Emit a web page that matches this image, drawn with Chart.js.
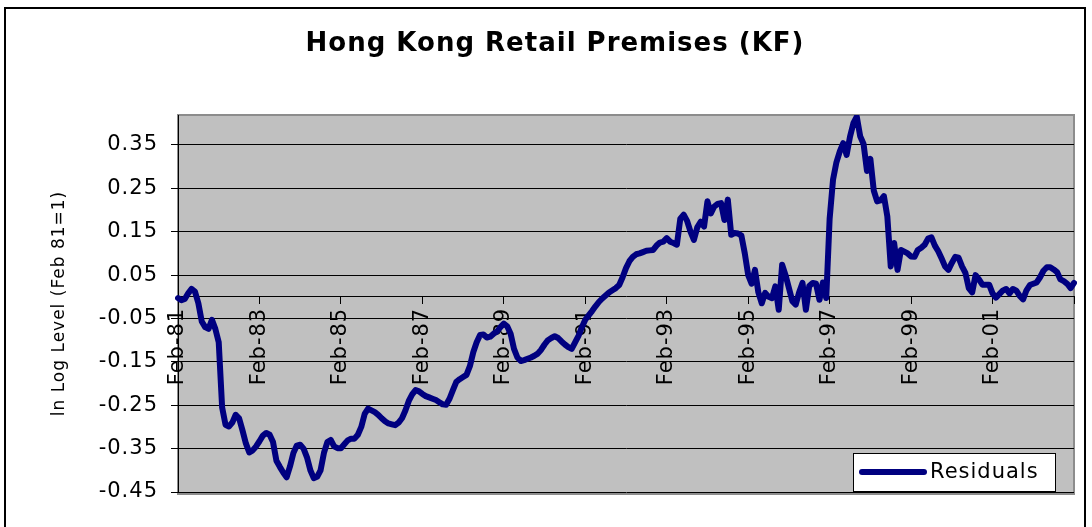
<!DOCTYPE html>
<html>
<head>
<meta charset="utf-8">
<title>Hong Kong Retail Premises (KF)</title>
<script src="https://cdn.jsdelivr.net/npm/chart.js@4/dist/chart.umd.min.js"></script>
<style>
  html, body { margin: 0; padding: 0; background: #fff; overflow: hidden; }
  #wrap { position: relative; width: 1092px; height: 527px; }
  #frame { position: absolute; left: 4px; top: 7px; width: 1082px; height: 560px;
           border: 2px solid #000; border-bottom: none; box-sizing: border-box; }
  canvas { position: absolute; left: 0; top: 0; }
</style>
</head>
<body>
<div id="wrap">
  <div id="frame"></div>
  <canvas id="chart" width="1092" height="527"></canvas>
</div>
<script>
// Monthly residuals, Feb-81 through Feb-03 (one row per year, Feb..Jan)
const residuals = [
  -0.003, -0.008, -0.005,  0.008,  0.018,  0.012, -0.015, -0.057, -0.070, -0.074, -0.053, -0.074,
  -0.105, -0.255, -0.295, -0.299, -0.290, -0.272, -0.280, -0.308, -0.338, -0.359, -0.354, -0.345,
  -0.333, -0.320, -0.314, -0.318, -0.335, -0.378, -0.392, -0.405, -0.416, -0.391, -0.360, -0.343,
  -0.341, -0.350, -0.370, -0.400, -0.418, -0.415, -0.400, -0.360, -0.335, -0.330, -0.345, -0.349,
  -0.349, -0.340, -0.331, -0.327, -0.327, -0.318, -0.300, -0.270, -0.258, -0.262, -0.266, -0.272,
  -0.280, -0.287, -0.292, -0.294, -0.296, -0.290, -0.280, -0.262, -0.240, -0.225, -0.215, -0.218,
  -0.224, -0.229, -0.232, -0.235, -0.238, -0.243, -0.248, -0.249, -0.235, -0.215, -0.196, -0.190,
  -0.185, -0.180, -0.160, -0.128, -0.105, -0.088, -0.087, -0.094, -0.092, -0.085, -0.080, -0.070,
  -0.062, -0.068, -0.085, -0.120, -0.140, -0.148, -0.146, -0.143, -0.140, -0.136, -0.131, -0.122,
  -0.110, -0.100, -0.095, -0.091, -0.095, -0.103, -0.110, -0.116, -0.120, -0.105, -0.090, -0.070,
  -0.053, -0.043, -0.033, -0.022, -0.012, -0.004,  0.003,  0.010,  0.015,  0.020,  0.027,  0.045,
   0.066,  0.082,  0.092,  0.098,  0.100,  0.103,  0.106,  0.107,  0.108,  0.118,  0.125,  0.127,
   0.135,  0.127,  0.124,  0.120,  0.180,  0.189,  0.175,  0.150,  0.131,  0.160,  0.173,  0.162,
   0.220,  0.192,  0.208,  0.214,  0.216,  0.177,  0.224,  0.143,  0.147,  0.146,  0.141,  0.100,
   0.050,  0.030,  0.062,  0.010, -0.015,  0.009,  0.000, -0.003,  0.024, -0.030,  0.074,  0.050,
   0.020, -0.010, -0.018,  0.010,  0.032, -0.030,  0.025,  0.032,  0.030, -0.007,  0.033, -0.003,
   0.180,  0.270,  0.310,  0.335,  0.354,  0.327,  0.369,  0.400,  0.415,  0.370,  0.352,  0.290,
   0.318,  0.245,  0.220,  0.222,  0.232,  0.185,  0.070,  0.124,  0.062,  0.108,  0.104,  0.100,
   0.093,  0.092,  0.108,  0.113,  0.120,  0.134,  0.137,  0.118,  0.105,  0.088,  0.070,  0.062,
   0.078,  0.092,  0.090,  0.070,  0.055,  0.020,  0.010,  0.050,  0.040,  0.028,  0.028,  0.028,
   0.008, -0.002,  0.006,  0.014,  0.018,  0.008,  0.018,  0.014,  0.002, -0.006,  0.015,  0.027,
   0.030,  0.033,  0.045,  0.060,  0.068,  0.068,  0.063,  0.057,  0.040,  0.036,  0.030,  0.020,
   0.032
];

// Category labels: one per month starting Feb-81
const monthNames = ['Jan','Feb','Mar','Apr','May','Jun','Jul','Aug','Sep','Oct','Nov','Dec'];
const months = residuals.map((_, i) => {
  const k = i + 1;
  const yy = (81 + Math.floor(k / 12)) % 100;
  return monthNames[k % 12] + '-' + String(yy).padStart(2, '0');
});

// Axis labels
const tickLabels = ['Feb-81','Feb-83','Feb-85','Feb-87','Feb-89','Feb-91','Feb-93','Feb-95','Feb-97','Feb-99','Feb-01'];
const tickEvery = 24;
const yTicks = [-0.45, -0.35, -0.25, -0.15, -0.05, 0.05, 0.15, 0.25, 0.35];

const FONT = "'DejaVu Sans', 'Liberation Sans', sans-serif";
const SPACING = '1px';

// Slightly spaced-out lettering for all canvas text
const textSpacing = {
  id: 'textSpacing',
  beforeUpdate(chart) { chart.ctx.letterSpacing = SPACING; },
  beforeDraw(chart) { chart.ctx.letterSpacing = SPACING; }
};

// Grey plot area with a soft frame
const plotBackground = {
  id: 'plotBackground',
  beforeDraw(chart) {
    const { ctx, chartArea: a } = chart;
    ctx.save();
    ctx.fillStyle = '#c0c0c0';
    ctx.fillRect(a.left, a.top, a.right - a.left, a.bottom - a.top);
    ctx.strokeStyle = '#8c8c8c';
    ctx.lineWidth = 2;
    ctx.strokeRect(a.left, a.top, a.right - a.left, a.bottom - a.top + 2);
    ctx.restore();
  }
};

// Boxed legend sitting in the lower right corner of the plot
const cornerLegend = {
  id: 'cornerLegend',
  afterDraw(chart) {
    const { ctx, chartArea: a } = chart;
    const ds = chart.data.datasets[0];
    const w = 202, h = 38;
    const x = a.right - 19 - w;
    const y = a.bottom - 1 - h;
    ctx.save();
    ctx.fillStyle = '#fff';
    ctx.fillRect(x, y, w, h);
    ctx.strokeStyle = '#000';
    ctx.lineWidth = 1;
    ctx.strokeRect(x + 0.5, y + 0.5, w, h);
    ctx.strokeStyle = ds.borderColor;
    ctx.lineWidth = 6;
    ctx.lineCap = 'round';
    ctx.beginPath();
    ctx.moveTo(x + 9, y + h / 2);
    ctx.lineTo(x + 71, y + h / 2);
    ctx.stroke();
    ctx.fillStyle = '#000';
    ctx.font = '21px ' + FONT;
    ctx.textAlign = 'left';
    ctx.textBaseline = 'middle';
    ctx.fillText(ds.label, x + 77, y + h / 2 + 1);
    ctx.restore();
  }
};

new Chart(document.getElementById('chart'), {
  type: 'line',
  data: {
    labels: months,
    datasets: [{
      label: 'Residuals',
      data: residuals,
      borderColor: '#000080',
      borderWidth: 6,
      pointRadius: 0,
      tension: 0,
      fill: false,
      borderJoinStyle: 'round',
      borderCapStyle: 'round'
    }]
  },
  options: {
    responsive: false,
    animation: false,
    events: [],
    layout: { padding: { left: 36, right: 18, top: 0, bottom: 35 } },
    plugins: {
      legend: { display: false },
      tooltip: { enabled: false },
      title: {
        display: true,
        text: 'Hong Kong Retail Premises (KF)',
        color: '#000',
        font: { family: FONT, size: 26, weight: 'bold' },
        padding: { top: 29, bottom: 54.8 }
      }
    },
    scales: {
      x: {
        type: 'category',
        position: { y: 0 },
        offset: false,
        // the axis sits inside the plot, so its labels need no side margins
        afterFit: (scale) => { scale.paddingLeft = 0; scale.paddingRight = 0; },
        border: { display: true, color: '#000', width: 1 },
        grid: {
          display: true,
          drawOnChartArea: false,
          drawTicks: true,
          tickLength: 7,
          color: (ctx) => (ctx.index % tickEvery === 0 ? '#000' : 'rgba(0,0,0,0)')
        },
        ticks: {
          autoSkip: false,
          minRotation: 90,
          maxRotation: 90,
          padding: 4,
          color: '#000',
          font: { family: FONT, size: 21 },
          callback: (value, index) =>
            index % tickEvery === 0 && tickLabels[index / tickEvery] !== undefined
              ? tickLabels[index / tickEvery] : ''
        }
      },
      y: {
        type: 'linear',
        min: -0.45,
        max: 0.419,
        afterBuildTicks: (scale) => { scale.ticks = yTicks.map(v => ({ value: v })); },
        afterFit: (scale) => { scale.width = 142; },
        border: { display: true, color: '#000', width: 1 },
        grid: { color: '#000', lineWidth: 1, tickLength: 7 },
        ticks: {
          padding: 13,
          color: '#000',
          font: { family: FONT, size: 21 },
          callback: (v) => v.toFixed(2)
        },
        title: {
          display: true,
          text: 'ln Log Level (Feb 81=1)',
          color: '#000',
          font: { family: FONT, size: 17 },
          padding: { top: 13, bottom: 0 }
        }
      }
    }
  },
  plugins: [textSpacing, plotBackground, cornerLegend]
});
</script>
</body>
</html>
